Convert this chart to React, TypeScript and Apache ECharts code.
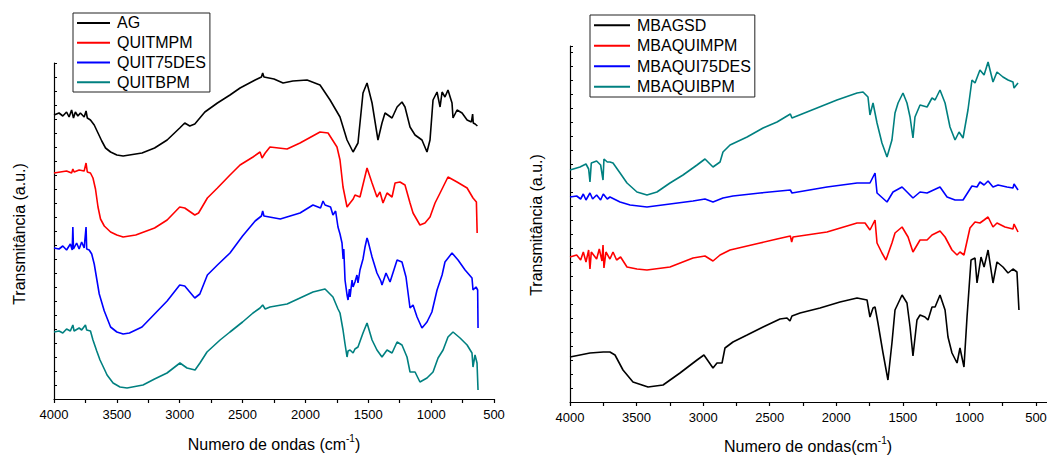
import React, { useEffect, useRef } from "react";
import * as echarts from "echarts";

const FONT = "'Liberation Sans', Arial, Helvetica, sans-serif";

const LEFT_NAMES = ["AG", "QUITMPM", "QUIT75DES", "QUITBPM"];
const RIGHT_NAMES = ["MBAGSD", "MBAQUIMPM", "MBAQUI75DES", "MBAQUIBPM"];
const COLORS = ["#000000", "#ff0000", "#0000ff", "#008080"];

// [wavenumber (cm-1), transmittance (a.u., offset for display)]
const AG = [
  [4000, 284], [3960, 286], [3930, 283], [3900, 287], [3880, 282], [3860, 289], [3845, 281], [3830, 287],
  [3810, 283], [3790, 286], [3760, 282], [3745, 288], [3735, 281], [3710, 279], [3680, 274], [3650, 266],
  [3620, 258], [3590, 251], [3550, 247], [3500, 244], [3450, 243], [3400, 244], [3300, 246], [3200, 251],
  [3100, 259], [3000, 271], [2960, 276], [2920, 273], [2880, 275], [2800, 287], [2700, 296], [2600, 304],
  [2520, 311], [2400, 319], [2350, 322], [2340, 326], [2330, 322], [2250, 320], [2178, 316], [2100, 318],
  [1987, 319], [1884, 314], [1804, 299], [1725, 282], [1669, 259], [1621, 247], [1582, 256], [1542, 306],
  [1510, 316], [1470, 296], [1423, 259], [1391, 276], [1367, 286], [1311, 281], [1271, 292], [1232, 297],
  [1208, 292], [1168, 272], [1128, 264], [1073, 259], [1033, 247], [1009, 259], [985, 299], [953, 307],
  [929, 292], [913, 307], [890, 302], [866, 309], [834, 296], [826, 281], [794, 289], [754, 286],
  [714, 279], [680, 277], [670, 285], [665, 276], [650, 275], [632, 273],
];

const QUITMPM = [
  [4000, 226], [3950, 227], [3900, 228], [3860, 226], [3850, 230], [3840, 227], [3800, 229], [3760, 228],
  [3745, 236], [3735, 227], [3710, 226], [3690, 221], [3670, 210], [3650, 192], [3630, 180], [3600, 173],
  [3550, 167], [3500, 164], [3450, 162], [3350, 164], [3200, 171], [3100, 179], [3000, 192], [2960, 191],
  [2880, 184], [2850, 186], [2780, 201], [2700, 211], [2600, 224], [2520, 234], [2417, 242], [2361, 247],
  [2345, 241], [2320, 246], [2282, 252], [2146, 250], [2043, 256], [1884, 267], [1820, 266], [1749, 252],
  [1725, 239], [1701, 212], [1669, 192], [1645, 196], [1620, 200], [1606, 204], [1566, 202], [1510, 231],
  [1470, 216], [1431, 202], [1407, 207], [1383, 196], [1351, 206], [1311, 202], [1287, 216], [1248, 217],
  [1208, 214], [1168, 196], [1144, 186], [1089, 174], [1049, 176], [1009, 182], [969, 196], [929, 206],
  [866, 222], [794, 217], [714, 211], [667, 201], [640, 197], [634, 166],
];

const QUIT75DES = [
  [4000, 151], [3960, 150], [3930, 153], [3900, 149], [3870, 155], [3855, 149], [3850, 172], [3845, 150],
  [3820, 156], [3800, 150], [3780, 157], [3760, 151], [3745, 172], [3740, 150], [3720, 149], [3700, 145],
  [3680, 135], [3660, 120], [3640, 105], [3600, 88], [3550, 72], [3500, 67], [3450, 65], [3400, 66],
  [3300, 72], [3200, 85], [3100, 98], [3000, 114], [2960, 113], [2880, 101], [2840, 105], [2780, 124],
  [2700, 134], [2600, 146], [2500, 163], [2400, 178], [2350, 183], [2340, 188], [2330, 183], [2200, 180],
  [2043, 186], [1940, 194], [1880, 191], [1860, 198], [1844, 194], [1800, 192], [1781, 184], [1760, 188],
  [1741, 172], [1725, 165], [1709, 156], [1700, 140], [1695, 150], [1685, 119], [1669, 104], [1661, 99],
  [1650, 110], [1645, 102], [1629, 119], [1621, 112], [1606, 117], [1590, 124], [1582, 116], [1566, 129],
  [1542, 140], [1526, 152], [1510, 161], [1502, 158], [1470, 142], [1431, 126], [1400, 118], [1391, 114],
  [1359, 126], [1327, 117], [1271, 139], [1232, 137], [1200, 122], [1168, 91], [1144, 94], [1112, 82],
  [1073, 71], [1033, 77], [994, 87], [953, 109], [913, 124], [890, 137], [834, 146], [786, 139],
  [730, 129], [675, 121], [667, 109], [643, 112], [630, 109], [627, 71],
];

const QUITBPM = [
  [4000, 67], [3960, 68], [3930, 66], [3900, 70], [3870, 68], [3850, 74], [3840, 68], [3800, 71],
  [3780, 69], [3750, 74], [3740, 69], [3710, 68], [3690, 59], [3660, 48], [3634, 39], [3600, 30],
  [3578, 24], [3530, 16], [3475, 12], [3419, 11], [3292, 14], [3200, 20], [3101, 26], [2998, 36],
  [2942, 31], [2878, 29], [2839, 36], [2783, 47], [2679, 59], [2600, 67], [2500, 77], [2417, 86],
  [2361, 91], [2340, 94], [2320, 90], [2282, 92], [2146, 95], [2043, 101], [1940, 107], [1844, 110],
  [1781, 102], [1741, 90], [1725, 86], [1701, 69], [1685, 55], [1669, 42], [1661, 48], [1645, 49],
  [1621, 46], [1606, 50], [1582, 52], [1542, 66], [1510, 76], [1470, 59], [1431, 49], [1391, 42],
  [1351, 49], [1311, 46], [1271, 57], [1232, 54], [1192, 42], [1168, 27], [1128, 27], [1089, 17],
  [1033, 21], [985, 27], [945, 41], [905, 49], [866, 62], [826, 67], [770, 61], [714, 54],
  [675, 46], [667, 32], [651, 44], [635, 36], [627, 9],
];

const MBAGSD = [
  [4000, 45], [3850, 49], [3750, 50], [3700, 50], [3662, 47], [3602, 32], [3527, 20], [3414, 15],
  [3301, 17], [3174, 29], [3046, 42], [2994, 47], [2926, 34], [2896, 39], [2858, 39], [2836, 54],
  [2776, 60], [2670, 67], [2550, 75], [2423, 83], [2370, 84], [2348, 81], [2333, 86], [2272, 89],
  [2122, 94], [1972, 100], [1844, 104], [1769, 102], [1747, 85], [1724, 94], [1709, 95], [1687, 79],
  [1649, 49], [1612, 22], [1582, 59], [1559, 92], [1506, 107], [1469, 99], [1446, 75], [1424, 46],
  [1394, 82], [1371, 87], [1334, 85], [1311, 82], [1281, 95], [1258, 95], [1221, 107], [1183, 92],
  [1161, 65], [1131, 49], [1093, 39], [1071, 54], [1041, 35], [1018, 85], [988, 142], [958, 144],
  [943, 119], [913, 145], [890, 135], [860, 152], [823, 119], [793, 140], [748, 135], [710, 129],
  [673, 133], [643, 130], [628, 92],
];

const MBAQUIMPM = [
  [4000, 145], [3950, 147], [3920, 142], [3900, 150], [3880, 140], [3860, 152], [3850, 133], [3840, 150],
  [3800, 143], [3780, 153], [3760, 141], [3752, 157], [3745, 134], [3730, 150], [3700, 143], [3677, 150],
  [3650, 142], [3620, 145], [3572, 135], [3497, 133], [3422, 132], [3249, 135], [3076, 144], [2986, 146],
  [2926, 141], [2873, 147], [2798, 152], [2573, 159], [2445, 163], [2345, 166], [2335, 160], [2325, 165],
  [2070, 170], [1844, 179], [1784, 179], [1747, 172], [1709, 182], [1694, 159], [1657, 149], [1627, 142],
  [1582, 159], [1559, 169], [1506, 175], [1461, 165], [1424, 150], [1371, 162], [1318, 162], [1281, 167],
  [1221, 171], [1183, 165], [1131, 152], [1093, 147], [1071, 150], [1041, 147], [996, 174], [958, 180],
  [921, 179], [890, 182], [860, 185], [823, 175], [793, 179], [733, 175], [673, 173], [665, 178],
  [635, 170],
];

const MBAQUI75DES = [
  [4000, 205], [3950, 206], [3920, 203], [3900, 208], [3880, 202], [3850, 209], [3830, 203], [3800, 207],
  [3770, 202], [3750, 208], [3720, 203], [3700, 205], [3624, 200], [3549, 197], [3422, 195], [3249, 198],
  [3076, 201], [2986, 203], [2926, 200], [2851, 204], [2776, 206], [2573, 209], [2345, 212], [2333, 209],
  [2070, 215], [1844, 219], [1747, 219], [1709, 229], [1694, 209], [1619, 200], [1574, 210], [1506, 215],
  [1461, 209], [1424, 204], [1371, 210], [1318, 209], [1221, 215], [1168, 205], [1108, 202], [1048, 202],
  [981, 216], [943, 215], [921, 220], [890, 217], [860, 221], [823, 215], [785, 217], [718, 215],
  [673, 214], [665, 218], [635, 212],
];

const MBAQUIBPM = [
  [4000, 232], [3925, 235], [3880, 238], [3860, 233], [3850, 220], [3840, 239], [3800, 241], [3770, 237],
  [3752, 222], [3745, 243], [3720, 240], [3700, 240], [3677, 239], [3624, 229], [3572, 219], [3497, 210],
  [3422, 207], [3347, 210], [3249, 219], [3151, 227], [3046, 237], [2986, 243], [2926, 235], [2873, 240],
  [2851, 250], [2798, 257], [2670, 265], [2550, 274], [2445, 280], [2345, 288], [2333, 284], [2145, 294],
  [1995, 302], [1844, 309], [1799, 310], [1762, 305], [1747, 287], [1724, 299], [1694, 279], [1657, 259],
  [1619, 245], [1582, 262], [1559, 289], [1536, 299], [1499, 309], [1469, 299], [1446, 285], [1424, 264],
  [1409, 285], [1371, 297], [1318, 295], [1281, 304], [1258, 302], [1221, 312], [1183, 299], [1146, 275],
  [1108, 262], [1078, 270], [1048, 264], [1011, 292], [981, 322], [958, 319], [921, 332], [890, 327],
  [860, 340], [823, 320], [793, 330], [748, 325], [710, 322], [673, 320], [665, 314], [635, 319],
];

const LEFT_DATA = [AG, QUITMPM, QUIT75DES, QUITBPM];
const RIGHT_DATA = [MBAGSD, MBAQUIMPM, MBAQUI75DES, MBAQUIBPM];

const X_NAME_LEFT = "Numero de ondas (cm{s|-1})";
const X_NAME_RIGHT = "Numero de ondas(cm{s|-1})";
const Y_NAME = "Transmitância (a.u.)";

export default function App() {
  const ref = useRef<HTMLDivElement>(null);

  useEffect(() => {
    document.body.style.margin = "0";
    if (!ref.current) return;
    const chart = echarts.init(ref.current, undefined, { renderer: "svg" });

    const xAxisBase = (min: number, gridIndex: number) => ({
      type: "value",
      gridIndex,
      min,
      max: 4000,
      interval: 500,
      inverse: true,
      axisLine: { show: true, onZero: false, lineStyle: { color: "#000", width: 1.2 } },
      axisTick: { show: true, inside: false, length: 4, lineStyle: { color: "#000", width: 1.2 } },
      minorTick: { show: true, splitNumber: 2, length: 4, lineStyle: { color: "#000", width: 1.2 } },
      axisLabel: {
        show: true,
        margin: 9,
        fontSize: 13,
        color: "#000",
        fontFamily: FONT,
        formatter: (v: number) => (v < 500 ? "" : String(v)),
      },
      splitLine: { show: false },
      minorSplitLine: { show: false },
    });

    const yAxisBase = (max: number, gridIndex: number) => ({
      type: "value",
      gridIndex,
      min: 0,
      max,
      interval: 14,
      axisLine: { show: true, onZero: false, lineStyle: { color: "#000", width: 1.2 } },
      axisTick: { show: true, inside: true, length: 3, lineStyle: { color: "#000", width: 1 } },
      axisLabel: { show: false },
      splitLine: { show: false },
    });

    const legendBase = (data: string[], left: number, top: number, itemWidth: number, lh: number) => ({
      data,
      orient: "vertical",
      left,
      top,
      padding: [0, 4, 0, 4],
      itemWidth,
      itemHeight: 2,
      itemGap: 0,
      icon: "rect",
      borderColor: "#222",
      borderWidth: 1,
      selectedMode: false,
      textStyle: { fontSize: 16, lineHeight: lh, color: "#000", fontFamily: FONT, padding: [0, 0, 0, 2] },
    });

    const makeSeries = (names: string[], data: number[][][], idx: number) =>
      names.map((name, i) => ({
        name,
        type: "line",
        xAxisIndex: idx,
        yAxisIndex: idx,
        data: data[i],
        showSymbol: false,
        symbol: "none",
        color: COLORS[i],
        itemStyle: { color: COLORS[i] },
        lineStyle: { color: COLORS[i], width: 1.6 },
        z: 10 - i,
      }));

    const richName = {
      s: { fontSize: 10, fontFamily: FONT, color: "#000", verticalAlign: "top", lineHeight: 22 },
    };

    const option = {
      animation: false,
      backgroundColor: "#ffffff",
      grid: [
        { left: 54, top: 63, width: 440, height: 336, outerBoundsMode: "none", containLabel: false },
        { left: 570, top: 46, width: 532.57, height: 356, outerBoundsMode: "none", containLabel: false },
      ],
      xAxis: [xAxisBase(500, 0), xAxisBase(0, 1)],
      yAxis: [yAxisBase(336, 0), yAxisBase(356, 1)],
      legend: [
        legendBase(LEFT_NAMES, 73, 13, 33, 19.75),
        legendBase(RIGHT_NAMES, 590, 15, 36, 20.5),
      ],
      series: [...makeSeries(LEFT_NAMES, LEFT_DATA, 0), ...makeSeries(RIGHT_NAMES, RIGHT_DATA, 1)],
      graphic: [
        {
          type: "text",
          x: 274,
          y: 444,
          style: {
            text: X_NAME_LEFT,
            rich: richName,
            align: "center",
            verticalAlign: "middle",
            fontSize: 16,
            lineHeight: 22,
            fontFamily: FONT,
            fill: "#000",
          },
        },
        {
          type: "text",
          x: 808,
          y: 446,
          style: {
            text: X_NAME_RIGHT,
            rich: richName,
            align: "center",
            verticalAlign: "middle",
            fontSize: 16,
            lineHeight: 22,
            fontFamily: FONT,
            fill: "#000",
          },
        },
        {
          type: "text",
          x: 19,
          y: 234,
          rotation: Math.PI / 2,
          style: { text: Y_NAME, align: "center", verticalAlign: "middle", fontSize: 16, fontFamily: FONT, fill: "#000" },
        },
        {
          type: "text",
          x: 536,
          y: 225,
          rotation: Math.PI / 2,
          style: { text: Y_NAME, align: "center", verticalAlign: "middle", fontSize: 16, fontFamily: FONT, fill: "#000" },
        },
      ],
    };

    chart.setOption(option as any);
    return () => chart.dispose();
  }, []);

  return <div ref={ref} style={{ width: 1047, height: 457 }} />;
}
